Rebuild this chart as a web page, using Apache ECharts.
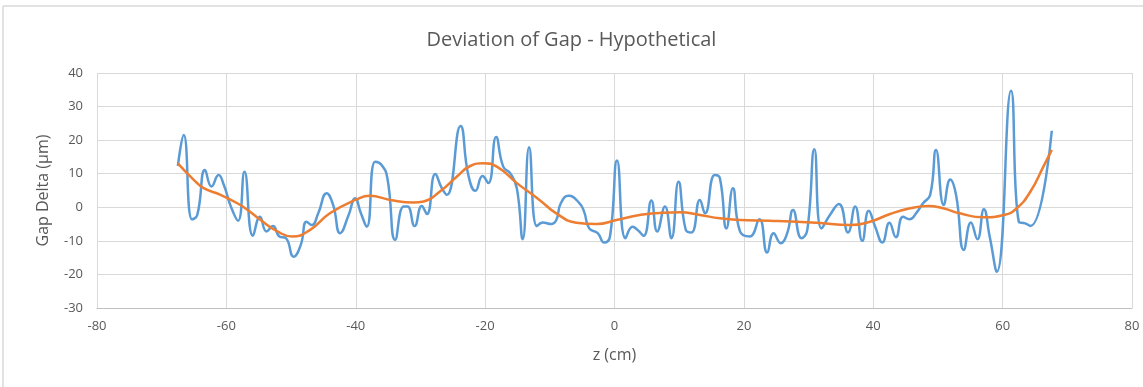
<!DOCTYPE html>
<html><head><meta charset="utf-8">
<script src="https://cdn.jsdelivr.net/npm/echarts@6/dist/echarts.min.js"></script>
<style>html,body{margin:0;padding:0;background:#fff}#c{width:1143px;height:387px}</style>
</head><body><div id="c"></div>
<script>
const title = 'Deviation of Gap - Hypothetical';
const xName = 'z (cm)';
const yName = 'Gap Delta (μm)';
const blueX = [-67.5,-66.6,-65.3,-64.5,-63.3,-62.3,-61.2,-60.4,-59.3,-58.2,-57.2,-55.9,-54.8,-53.8,-52.8,-51.8,-50.8,-49.6,-48.5,-47.6,-46.8,-45.8,-44.5,-43.5,-42.4,-41.1,-40.1,-39.2,-38.3,-37.0,-36.0,-35.1,-33.9,-32.6,-32.0,-30.9,-29.8,-29.0,-27.7,-26.7,-25.9,-23.8,-22.6,-21.5,-20.4,-19.5,-18.3,-17.2,-16.1,-15.1,-14.2,-13.2,-12.0,-11.1,-9.8,-9.0,-8.3,-7.1,-5.4,-4.7,-3.9,-2.6,-1.6,-0.7,0.4,1.7,2.8,3.6,4.5,5.7,6.6,7.8,8.8,9.9,11.0,11.9,13.2,14.0,15.5,16.3,17.3,18.3,19.4,20.9,22.4,23.6,24.6,25.7,26.7,27.6,28.9,29.8,30.9,32.0,33.3,34.7,36.1,37.2,38.3,39.3,40.3,41.4,42.5,43.5,44.6,45.6,46.7,47.7,48.8,49.7,50.9,51.9,52.8,54.0,55.1,56.1,57.1,58.0,59.1,61.3,62.5,63.5,64.3,67.6];
const blueY = [12.3,21.5,-3.6,-2.3,11.1,6.2,9.6,6.7,0.2,-4.0,10.6,-8.5,-2.8,-7.2,-5.6,-8.7,-9.2,-14.7,-11.2,-4.3,-5.3,-1.8,4.2,0.7,-7.7,-2.3,2.7,-1.8,-5.8,13.6,12.6,8.6,-9.7,0.2,0.2,-5.6,0.4,-2.0,9.9,5.7,3.7,24.2,9.6,4.9,9.3,7.2,20.9,12.1,10.1,5.7,-9.5,17.9,-5.6,-4.5,-5.0,-3.8,1.2,3.4,1.2,-1.3,-6.3,-7.7,-10.5,-8.7,13.9,-9.2,-5.8,-6.8,-8.5,2.0,-7.2,0.2,-9.2,7.6,-6.6,-7.5,2.2,-1.8,9.6,8.6,-6.3,5.7,-7.2,-8.7,-3.6,-13.5,-7.7,-10.7,-7.7,-0.8,-9.2,-6.8,17.3,-6.3,-2.3,1.0,-7.5,0.2,-10.0,-1.0,-5.8,-10.5,-4.6,-8.9,-2.8,-3.6,-1.6,1.2,3.7,17.1,0.7,8.3,3.7,-12.7,-4.5,-9.5,-0.6,-8.7,-19.2,34.7,-4.3,-4.8,-5.6,22.8];
const orangeX = [-67.5,-65.0,-63.5,-60.9,-58.3,-56.7,-54.7,-52.1,-49.8,-47.1,-44.0,-39.8,-37.8,-34.7,-31.1,-29.5,-27.0,-24.4,-22.3,-20.3,-18.2,-15.1,-11.6,-9.0,-5.9,-2.8,0.3,3.9,7.5,10.1,13.2,16.3,19.4,24.0,31.2,36.4,39.5,42.6,45.7,48.5,50.8,53.4,57.0,60.2,62.2,64.3,66.3,67.6];
const orangeY = [13.1,8.1,5.7,3.7,1.2,-0.8,-3.8,-7.2,-8.7,-6.8,-1.8,2.4,3.4,2.2,1.4,1.7,4.7,9.1,12.3,13.1,12.1,7.2,2.2,-1.8,-4.6,-5.0,-3.8,-2.3,-1.6,-1.5,-2.3,-3.3,-3.8,-4.0,-4.6,-5.3,-4.3,-2.0,-0.3,0.4,-0.3,-1.8,-3.0,-2.3,-0.3,4.7,12.1,17.1];

const font = "'Open Sans', 'Liberation Sans', sans-serif";
const chart = echarts.init(document.getElementById('c'), null, {renderer: 'canvas'});
chart.setOption({
  animation: false,
  backgroundColor: '#fff',
  title: {text: title, left: 'center', top: 25, textStyle: {fontFamily: font, fontSize: 20, fontWeight: 'normal', color: '#595959'}},
  graphic: [
    {type: 'line', shape: {x1: 3, y1: 6, x2: 1143, y2: 6}, style: {stroke: '#d9d9d9', lineWidth: 1.5}},
    {type: 'line', shape: {x1: 3, y1: 6, x2: 3, y2: 387}, style: {stroke: '#d9d9d9', lineWidth: 1.5}}
  ],
  grid: {left: 97, right: 11, top: 73, bottom: 79},
  xAxis: {
    type: 'value', min: -80, max: 80, interval: 20,
    name: xName, nameLocation: 'middle', nameGap: 39,
    nameTextStyle: {fontFamily: font, fontSize: 16, color: '#595959'},
    axisLine: {show: true, onZero: false, lineStyle: {color: '#bfbfbf'}}, axisTick: {show: false},
    axisLabel: {fontFamily: font, fontSize: 13, color: '#595959', margin: 12},
    splitLine: {show: true, lineStyle: {color: '#d9d9d9'}}
  },
  yAxis: {
    type: 'value', min: -30, max: 40, interval: 10,
    name: yName, nameLocation: 'middle', nameGap: 46,
    nameTextStyle: {fontFamily: font, fontSize: 16, color: '#595959'},
    axisLine: {show: false}, axisTick: {show: false},
    axisLabel: {fontFamily: font, fontSize: 13, color: '#595959', margin: 14},
    splitLine: {show: true, lineStyle: {color: '#d9d9d9'}}
  },
  series: [
    {type: 'line', data: blueX.map((x, i) => [x, blueY[i]]), smooth: 0.5, showSymbol: false,
     lineStyle: {color: '#5B9BD5', width: 2.5}, z: 2},
    {type: 'line', data: orangeX.map((x, i) => [x, orangeY[i]]), smooth: 0.5, showSymbol: false,
     lineStyle: {color: '#ED7D31', width: 2.5}, z: 3}
  ]
});
</script></body></html>
